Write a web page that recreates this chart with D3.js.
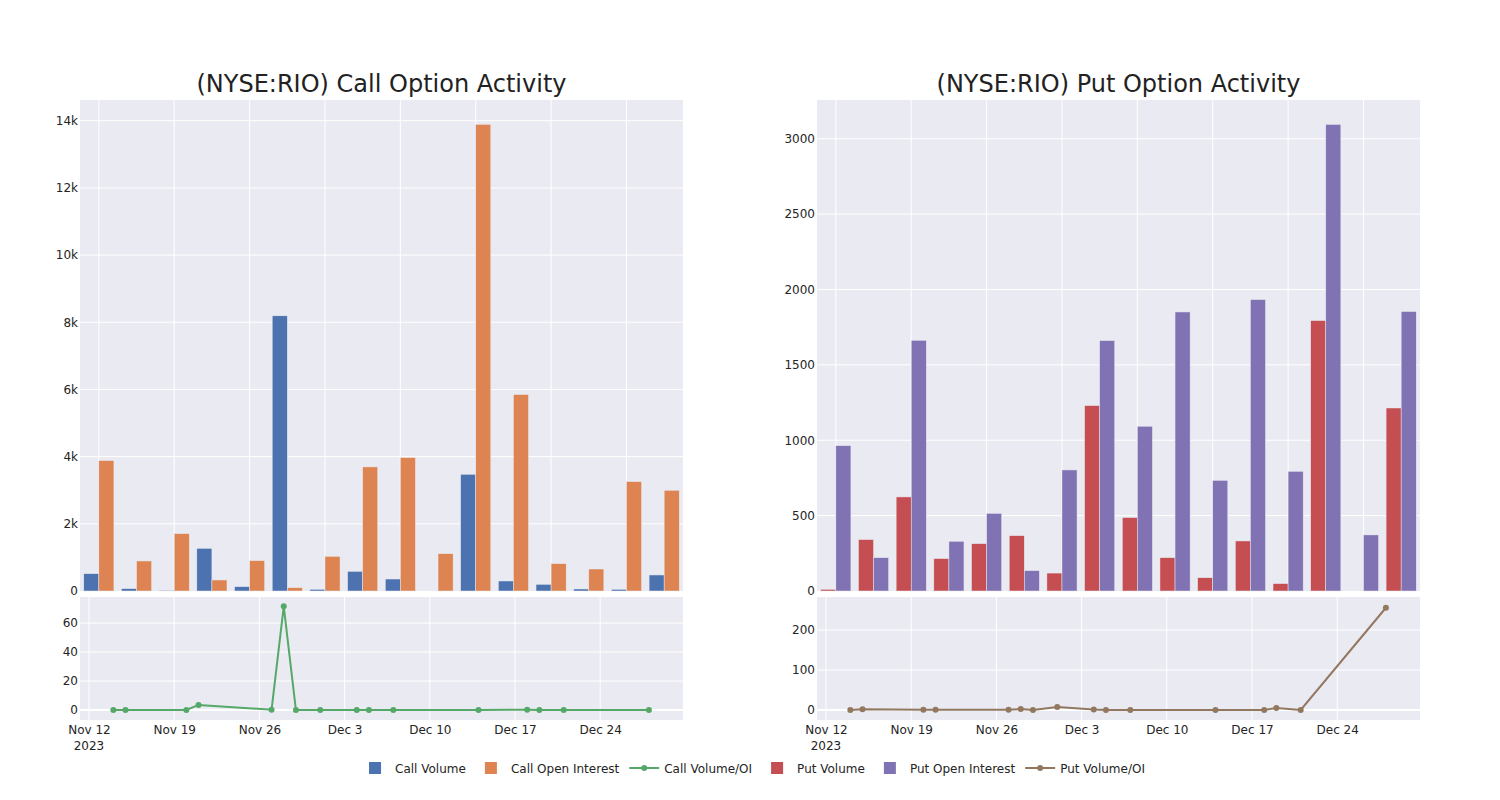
<!DOCTYPE html>
<html><head><meta charset="utf-8">
<script src="https://cdn.jsdelivr.net/npm/d3@7"></script>
<style>body{margin:0;background:#fff;} text{font-family:"DejaVu Sans",sans-serif;fill:rgb(36,36,36);}</style>
</head><body><svg id="c" width="1500" height="800"></svg>
<script>
// ---- data ----
const dates = ["2023-11-14","2023-11-15","2023-11-20","2023-11-21","2023-11-27","2023-11-28","2023-11-29","2023-12-01",
               "2023-12-04","2023-12-05","2023-12-07","2023-12-14","2023-12-18","2023-12-19","2023-12-21","2023-12-28"];
const callVolume = [516, 70, 20, 1271, 129, 8192, 50, 586, 357, 0, 3475, 298, 199, 60, 50, 477];
const callOpenInterest = [3883, 894, 1708, 328, 904, 99, 1033, 3694, 3972, 1112, 13892, 5849, 814, 655, 3257, 2999];
const callRatio = [0, 0, 0, 3.5, 0.2, 71.6, 0, 0, 0, 0, 0, 0, 0.2, 0, 0, 0];
const putVolume = [11, 341, 624, 215, 314, 367, 119, 1230, 487, 221, 88, 332, 49, 1794, 0, 1214];
const putOpenInterest = [964, 221, 1663, 330, 515, 135, 803, 1661, 1093, 1851, 734, 1933, 794, 3095, 372, 1854];
const putRatio = [0, 2, 0.8, 0.8, 0.8, 2.5, 0, 7.5, 1, 0, 0, 0, 0, 5, 0, 255.6];
const callTicks = [0, 2000, 4000, 6000, 8000, 10000, 12000, 14000];
const callTickLabels = ["0", "2k", "4k", "6k", "8k", "10k", "12k", "14k"];
const putTicks = [0, 500, 1000, 1500, 2000, 2500, 3000];
const putTickLabels = ["0", "500", "1000", "1500", "2000", "2500", "3000"];
const callRatioTicks = [0, 20, 40, 60];
const putRatioTicks = [0, 100, 200];
const dateTicks = ["2023-11-12","2023-11-19","2023-11-26","2023-12-03","2023-12-10","2023-12-17","2023-12-24"];
const dateTickLabels = ["Nov 12", "Nov 19", "Nov 26", "Dec 3", "Dec 10", "Dec 17", "Dec 24"];
const titles = ["(NYSE:RIO) Call Option Activity", "(NYSE:RIO) Put Option Activity"];
const legendNames = ["Call Volume", "Call Open Interest", "Call Volume/OI", "Put Volume", "Put Open Interest", "Put Volume/OI"];
const colors = ["#4C72B0", "#DD8452", "#55A868", "#C44E52", "#8172B3", "#937860"];

const parse = s => { const [y,m,d] = s.split("-").map(Number); return new Date(y, m-1, d); };
const svg = d3.select("#c");
const BG = "rgb(234,234,242)";

function panel(x0, title, vol, oi, ratio, cVol, cOI, cLine, yMax, ticks, tickLabels, rDomain, rTicks) {
  const W = 603, topY0 = 100, topY1 = 591, botY0 = 597, botY1 = 720;
  const g = svg.append("g");
  // title
  g.append("text").attr("x", x0 + W/2).attr("y", 92).attr("text-anchor", "middle")
    .style("font-size", "24px").style("fill", "#222").text(title);
  // top plot
  g.append("rect").attr("x", x0).attr("y", topY0).attr("width", W).attr("height", topY1 - topY0).attr("fill", BG);
  const xb = d3.scaleBand().domain(d3.range(dates.length)).range([x0, x0 + W]).paddingInner(0.2).paddingOuter(0.1);
  const xi = d3.scaleBand().domain([0, 1]).range([0, xb.bandwidth()]);
  const y = d3.scaleLinear().domain([0, yMax]).range([topY1, topY0]);
  // grid
  g.append("g").selectAll("line.h").data(ticks.slice(1)).join("line")
    .attr("x1", x0).attr("x2", x0 + W).attr("y1", d => y(d)).attr("y2", d => y(d))
    .attr("stroke", "#fff").attr("stroke-width", 1);
  g.append("g").selectAll("line.v").data(d3.range(0, dates.length, 2)).join("line")
    .attr("x1", d => xb(d) + xb.bandwidth()/2).attr("x2", d => xb(d) + xb.bandwidth()/2)
    .attr("y1", topY0).attr("y2", topY1).attr("stroke", "#fff").attr("stroke-width", 1);
  // y axis labels
  const ya = d3.axisLeft(y).tickValues(ticks).tickFormat((d, i) => tickLabels[i]).tickSize(0).tickPadding(2);
  const yag = g.append("g").attr("transform", `translate(${x0},0)`).call(ya);
  yag.select(".domain").remove();
  yag.selectAll("text").style("font-size", "12px").style("fill", "rgb(36,36,36)").attr("font-family", "DejaVu Sans");
  // bars
  const series = [{v: vol, c: cVol, k: 0}, {v: oi, c: cOI, k: 1}];
  series.forEach(s => {
    g.append("g").selectAll("rect").data(s.v).join("rect")
      .attr("x", (d, i) => xb(i) + xi(s.k)).attr("width", xi.bandwidth())
      .attr("y", d => y(d)).attr("height", d => y(0) - y(d))
      .attr("fill", s.c).attr("stroke", BG).attr("stroke-width", 0.5);
  });

  // bottom plot
  g.append("rect").attr("x", x0).attr("y", botY0).attr("width", W).attr("height", botY1 - botY0).attr("fill", BG);
  const xt = d3.scaleTime().domain([new Date(2023, 10, 11, 6, 17), new Date(2023, 11, 30, 19, 12)]).range([x0, x0 + W]);
  const yr = d3.scaleLinear().domain(rDomain).range([botY1, botY0]);
  g.append("g").selectAll("line").data(rTicks).join("line")
    .attr("x1", x0).attr("x2", x0 + W).attr("y1", d => yr(d)).attr("y2", d => yr(d))
    .attr("stroke", "#fff").attr("stroke-width", d => d === 0 ? 2 : 1);
  g.append("g").selectAll("line").data(dateTicks).join("line")
    .attr("x1", d => xt(parse(d))).attr("x2", d => xt(parse(d)))
    .attr("y1", botY0).attr("y2", botY1).attr("stroke", "#fff").attr("stroke-width", 1);
  const yra = d3.axisLeft(yr).tickValues(rTicks).tickSize(0).tickPadding(2);
  const yrg = g.append("g").attr("transform", `translate(${x0},0)`).call(yra);
  yrg.select(".domain").remove();
  yrg.selectAll("text").style("font-size", "12px").style("fill", "rgb(36,36,36)").attr("font-family", "DejaVu Sans");
  // date tick labels
  const xa = d3.axisBottom(xt).tickValues(dateTicks.map(parse)).tickFormat((d, i) => dateTickLabels[i]).tickSize(0).tickPadding(5);
  const xag = g.append("g").attr("transform", `translate(0,${botY1})`).call(xa);
  xag.select(".domain").remove();
  xag.selectAll("text").style("font-size", "12px").style("fill", "rgb(36,36,36)").attr("font-family", "DejaVu Sans");
  g.append("text").attr("x", xt(parse(dateTicks[0]))).attr("y", botY1 + 30).attr("text-anchor", "middle")
    .style("font-size", "12px").text("2023");
  // line
  const pts = dates.map((d, i) => [parse(d), ratio[i]]);
  g.append("path").datum(pts).attr("d", d3.line().x(d => xt(d[0])).y(d => yr(d[1])))
    .attr("fill", "none").attr("stroke", cLine).attr("stroke-width", 2);
  g.append("g").selectAll("circle").data(pts).join("circle")
    .attr("cx", d => xt(d[0])).attr("cy", d => yr(d[1])).attr("r", 3).attr("fill", cLine);
}

panel(80, titles[0], callVolume, callOpenInterest, callRatio, colors[0], colors[1], colors[2],
      14617, callTicks, callTickLabels, [-6.9, 78], callRatioTicks);
panel(817, titles[1], putVolume, putOpenInterest, putRatio, colors[3], colors[4], colors[5],
      3257, putTicks, putTickLabels, [-25, 282.5], putRatioTicks);

// legend
const types = ["bar", "bar", "line", "bar", "bar", "line"];
const lg = svg.append("g");
let cx = 0;
const items = [];
legendNames.forEach((n, i) => {
  const it = lg.append("g");
  if (types[i] === "bar") {
    it.append("rect").attr("x", 14).attr("y", -6).attr("width", 12).attr("height", 12).attr("fill", colors[i]);
  } else {
    it.append("line").attr("x1", 5).attr("x2", 35).attr("y1", 0).attr("y2", 0).attr("stroke", colors[i]).attr("stroke-width", 2);
    it.append("circle").attr("cx", 20).attr("cy", 0).attr("r", 3).attr("fill", colors[i]);
  }
  const t = it.append("text").attr("x", 40).attr("y", 4.5).style("font-size", "12px").text(n);
  const w = t.node().getComputedTextLength();
  items.push([it, cx]);
  cx += 40 + w + 5;
});
const total = cx - 5;
const start = 750 - total / 2;
items.forEach(([it, x]) => it.attr("transform", `translate(${start + x},768)`));
</script>
</body></html>
